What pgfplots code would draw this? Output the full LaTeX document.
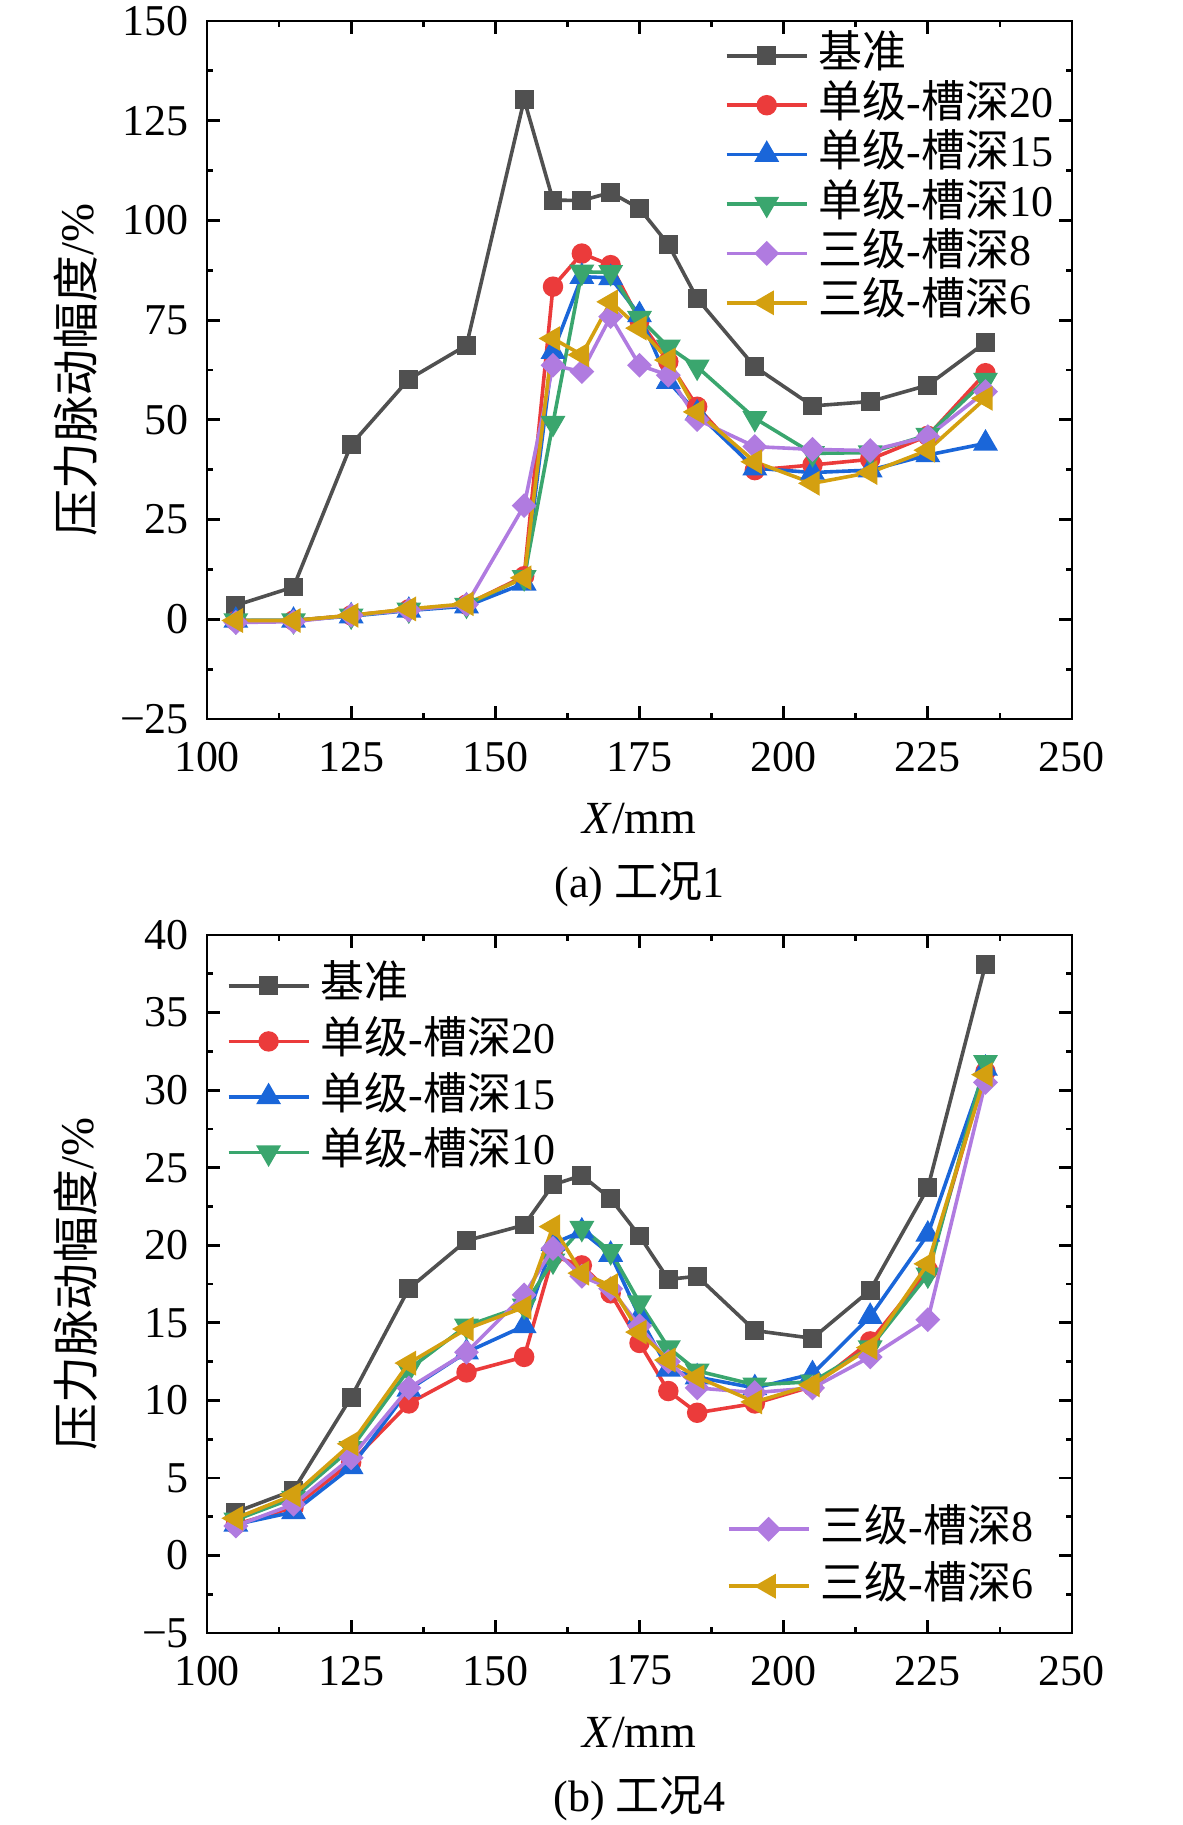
\documentclass[border=0pt]{standalone}
\usepackage{pgfplots}
\pgfplotsset{compat=1.18}
\usepackage{fontspec}
\setmainfont{Liberation Serif}
\newfontfamily\cjk{Noto Sans CJK SC}

\definecolor{cK}{HTML}{505050}
\definecolor{cR}{HTML}{EB3B3B}
\definecolor{cB}{HTML}{1A66D9}
\definecolor{cG}{HTML}{3AA66E}
\definecolor{cP}{HTML}{B07BE0}
\definecolor{cY}{HTML}{D4A010}

\pgfplotsset{
  myaxis/.style={
    scale only axis, width=216.25pt, height=174.5pt,
    xmin=100, xmax=250, xtick={100,125,...,250},
    xticklabels={100,125,150,175,200,225,250},
    minor x tick num=1, minor y tick num=1,
    tick align=inside,
    major tick length=3.2pt, minor tick length=1.6pt,
    axis line style={line width=0.7pt},
    every tick/.style={black, line width=0.7pt},
    tick label style={font=\fontsize{11}{13}\selectfont},
    xticklabel style={yshift=-2.2pt},
    yticklabel style={xshift=-1pt},
    xlabel={\textit{X}/mm},
    ylabel={{\cjk 压力脉动幅度}/\%},
    every axis x label/.style={at={(axis description cs:0.5,0)}, anchor=center, yshift=-25pt, font=\fontsize{11.5}{14}\selectfont},
    every axis y label/.style={at={(axis description cs:0,0.5)}, xshift=-32.75pt, rotate=90, anchor=center, font=\fontsize{11.7}{14}\selectfont},
    legend style={draw=none, fill=none, font=\fontsize{11}{13}\selectfont, inner sep=0pt,
      nodes={inner sep=0pt, text height=8pt, text depth=2pt}, column sep=2.5pt},
    legend cell align=left,
    legend image code/.code={\draw[mark repeat=2,mark phase=2,##1] plot coordinates {(0pt,0pt) (10pt,0pt) (20pt,0pt)};},
    every axis plot/.append style={line width=0.9pt},
  },
  sK/.style={color=cK, mark=square*, mark size=1.9pt, mark options={solid, fill=cK}},
  sR/.style={color=cR, mark=*, mark size=2.1pt, mark options={solid, fill=cR}},
  sB/.style={color=cB, mark=triangle*, mark size=2.7pt, mark options={solid, fill=cB}},
  sG/.style={color=cG, mark=triangle*, mark size=2.7pt, mark options={solid, fill=cG, rotate=180}},
  sP/.style={color=cP, mark=square*, mark size=1.75pt, mark options={solid, fill=cP, rotate=45}},
  sY/.style={color=cY, mark=triangle*, mark size=2.7pt, mark options={solid, fill=cY, rotate=90}},
}

\begin{document}
\begin{tikzpicture}
\useasboundingbox (0,0) rectangle (295.5pt,-456.25pt);

% ---------------- (a) ----------------
\begin{axis}[myaxis, name=A, at={(51.75pt,-5.25pt)}, anchor=north west,
  ymin=-25, ymax=150, ytick={-25,0,...,150},
  yticklabels={−25,0,25,50,75,100,125,150},
  legend style={at={(1,1)}, anchor=north east, xshift=-4.5pt, yshift=-3.5pt, row sep=2.35pt}]
\addplot[sK] coordinates {(105,3.5)(115,8.1)(125,43.8)(135,60.2)(145,68.7)(155,130.3)(160,105.1)(165,105.0)(170,107.0)(175,103.0)(180,94.0)(185,80.4)(195,63.3)(205,53.5)(215,54.6)(225,58.7)(235,69.4)};
\addlegendentry{{\cjk 基准}}
\addplot[sR] coordinates {(105,-0.4)(115,-0.3)(125,1.0)(135,2.5)(145,3.7)(155,10.8)(160,83.4)(165,91.7)(170,88.8)(175,75.0)(180,64.6)(185,53.3)(195,37.4)(205,38.7)(215,40.1)(225,46.0)(235,61.7)};
\addlegendentry{{\cjk 单级}-{\cjk 槽深}20}
\addplot[sB] coordinates {(105,-0.3)(115,-0.3)(125,0.8)(135,2.2)(145,3.3)(155,9.0)(160,67.1)(165,85.9)(170,85.6)(175,76.3)(180,59.6)(185,51.7)(195,37.9)(205,36.8)(215,37.4)(225,41.2)(235,44.1)};
\addlegendentry{{\cjk 单级}-{\cjk 槽深}15}
\addplot[sG] coordinates {(105,-0.3)(115,-0.3)(125,0.9)(135,2.4)(145,3.6)(155,10.5)(160,49.2)(165,87.1)(170,87.0)(175,75.5)(180,68.3)(185,63.3)(195,50.4)(205,41.6)(215,41.8)(225,46.2)(235,60.0)};
\addlegendentry{{\cjk 单级}-{\cjk 槽深}10}
\addplot[sP] coordinates {(105,-0.8)(115,-0.6)(125,1.0)(135,2.3)(145,3.7)(155,28.5)(160,63.7)(165,62.1)(170,75.9)(175,63.7)(180,61.2)(185,50.1)(195,43.3)(205,42.6)(215,42.3)(225,45.8)(235,57.1)};
\addlegendentry{{\cjk 三级}-{\cjk 槽深}8}
\addplot[sY] coordinates {(105,-0.3)(115,-0.3)(125,1.0)(135,2.6)(145,3.9)(155,10.4)(160,70.4)(165,66.3)(170,79.6)(175,73.0)(180,65.0)(185,52.0)(195,39.5)(205,34.1)(215,36.8)(225,42.4)(235,55.4)};
\addlegendentry{{\cjk 三级}-{\cjk 槽深}6}
\end{axis}
\node[font=\fontsize{11}{13}\selectfont] at ([yshift=-41.5pt]A.south) {(a) {\cjk 工况}1};

% ---------------- (b) ----------------
\begin{axis}[myaxis, name=B, at={(51.75pt,-233.75pt)}, anchor=north west,
  ymin=-5, ymax=40, ytick={-5,0,...,40},
  yticklabels={−5,0,5,10,15,20,25,30,35,40},
  legend style={at={(0,1)}, anchor=north west, xshift=4.75pt, yshift=-7.5pt, row sep=3.9pt}]
\addplot[sK] coordinates {(105,2.8)(115,4.2)(125,10.2)(135,17.2)(145,20.3)(155,21.3)(160,23.9)(165,24.5)(170,23.0)(175,20.6)(180,17.8)(185,18.0)(195,14.5)(205,14.0)(215,17.1)(225,23.7)(235,38.1)};
\addlegendentry{{\cjk 基准}}
\addplot[sR] coordinates {(105,2.0)(115,3.1)(125,6.0)(135,9.8)(145,11.8)(155,12.8)(160,19.3)(165,18.7)(170,16.9)(175,13.7)(180,10.6)(185,9.2)(195,9.8)(205,10.9)(215,13.8)(225,18.4)(235,31.2)};
\addlegendentry{{\cjk 单级}-{\cjk 槽深}20}
\addplot[sB] coordinates {(105,2.0)(115,2.8)(125,5.7)(135,10.7)(145,13.1)(155,14.8)(160,20.1)(165,20.9)(170,19.4)(175,15.4)(180,12.0)(185,11.5)(195,10.8)(205,11.7)(215,15.4)(225,20.7)(235,31.4)};
\addlegendentry{{\cjk 单级}-{\cjk 槽深}15}
\addplot[sG] coordinates {(105,2.3)(115,3.7)(125,6.9)(135,12.0)(145,14.8)(155,16.1)(160,19.0)(165,21.1)(170,19.6)(175,16.3)(180,13.4)(185,11.9)(195,11.0)(205,11.2)(215,13.4)(225,18.1)(235,31.8)};
\addlegendentry{{\cjk 单级}-{\cjk 槽深}10}
\end{axis}
\begin{axis}[myaxis, hide axis, at={(51.75pt,-233.75pt)}, anchor=north west,
  ymin=-5, ymax=40, xlabel={}, ylabel={},
  legend style={at={(0.6,0)}, anchor=south west, xshift=0pt, yshift=6.5pt, row sep=4.25pt}]
\addplot[sP] coordinates {(105,1.9)(115,3.3)(125,6.3)(135,10.8)(145,13.1)(155,16.8)(160,19.8)(165,18.0)(170,17.2)(175,14.8)(180,12.5)(185,10.8)(195,10.5)(205,10.8)(215,12.8)(225,15.2)(235,30.5)};
\addlegendentry{{\cjk 三级}-{\cjk 槽深}8}
\addplot[sY] coordinates {(105,2.4)(115,3.9)(125,7.2)(135,12.4)(145,14.6)(155,16.0)(160,21.2)(165,18.2)(170,17.4)(175,14.4)(180,12.6)(185,11.5)(195,9.9)(205,11.0)(215,13.4)(225,18.8)(235,31.0)};
\addlegendentry{{\cjk 三级}-{\cjk 槽深}6}
\end{axis}
\node[font=\fontsize{11}{13}\selectfont] at ([yshift=-41.5pt]B.south) {(b) {\cjk 工况}4};
\end{tikzpicture}
\end{document}
